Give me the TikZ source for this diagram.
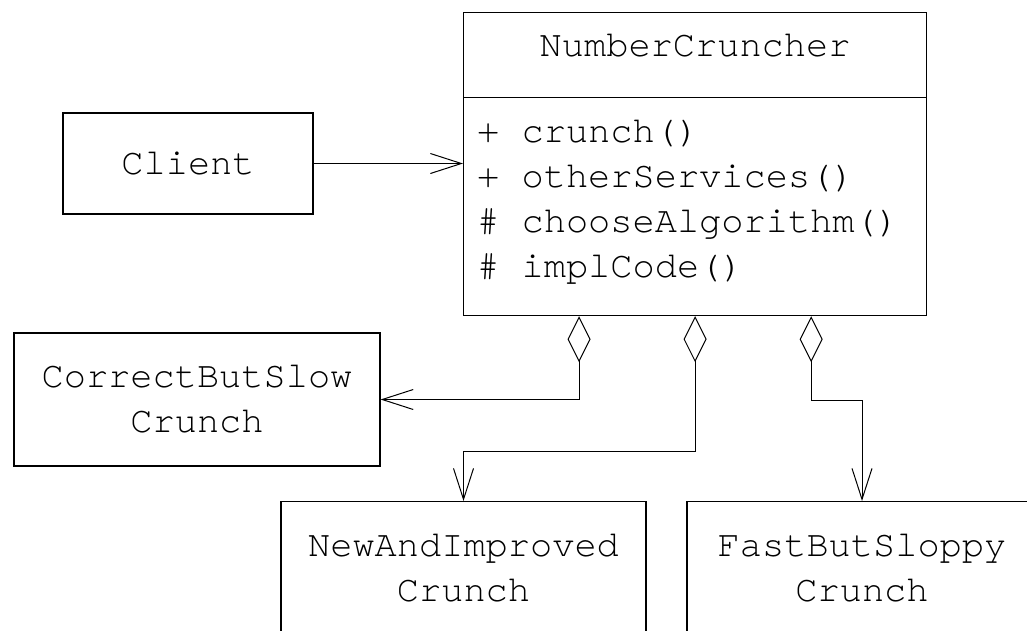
\documentclass[tikz,border=0pt]{standalone}
\usepackage{fontspec}
\setmainfont{texgyrecursor}[Extension=.otf, UprightFont=*-regular]
\usepackage{tikz}
\usetikzlibrary{arrows.meta,calc}

\tikzset{
    umlbox/.style={draw, line width=1.2pt, inner sep=0pt},
    assoc/.style={line width=1pt, -{Straight Barb[length=31pt,width=20pt]}},
    aggr/.style={line width=1pt, {Diamond[open,length=46pt,width=23pt]}-{Straight Barb[length=31pt,width=20pt]}},
}

\begin{document}
\begin{tikzpicture}[x=1pt, y=-1pt, font=\fontsize{37}{45}\selectfont]

    \useasboundingbox (0,0) rectangle (1027,630);

    \node[umlbox, anchor=north west, minimum width=463pt, minimum height=85pt,
        text height=22pt, text depth=20pt] (nc) at (463,12) {NumberCruncher};
    \node[umlbox, anchor=north west, minimum width=463pt, minimum height=218pt] (ops) at (463,97) {};
    \node[anchor=base west, align=left, inner sep=0pt] (opstext) at (477,277)
    {+ crunch()\\+ otherServices()\\\# chooseAlgorithm()\\\# implCode()};

    \node[umlbox, minimum width=250pt, minimum height=101pt] (client) at (188,163.5) {Client};
    \node[umlbox, align=center, minimum width=366pt, minimum height=133pt] (slow) at (197,399.5)
    {CorrectButSlow\\Crunch};
    \node[umlbox, align=center, anchor=north, minimum width=365pt, minimum height=134pt] (improved) at (463.5,501)
    {NewAndImproved\\Crunch};
    \node[umlbox, align=center, anchor=north, minimum width=350pt, minimum height=134pt] (sloppy) at (862,501)
    {FastButSloppy\\Crunch};

    \draw[assoc] (client.east) -- (client.east -| ops.west);
    \draw[aggr] ($(ops.south west)!0.25!(ops.south east)$) |- (slow.east);
    \draw[aggr] ($(ops.south west)!0.5!(ops.south east)$) -- ++(0,135) -| (improved.north);
    \draw[aggr] ($(ops.south west)!0.75!(ops.south east)$) -- ++(0,84) -| (sloppy.north);

\end{tikzpicture}
\end{document}
